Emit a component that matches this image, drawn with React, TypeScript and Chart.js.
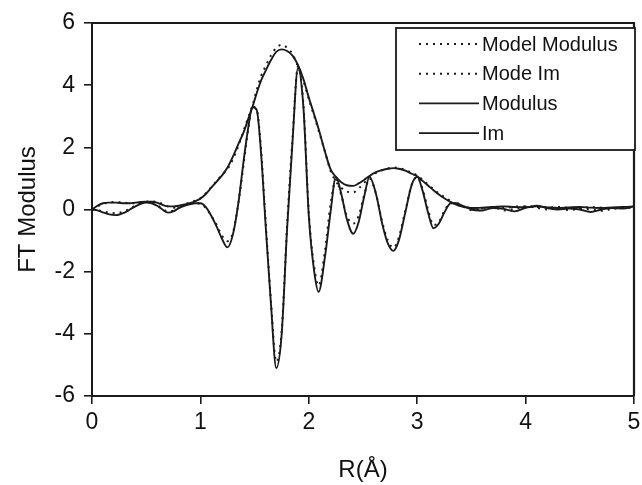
import React, { useEffect, useRef } from "react";
import { Chart, registerables } from "chart.js";

Chart.register(...registerables);

// R (Å) sample positions shared by all series
const R_VALUES = [
  0, 0.05, 0.1, 0.15, 0.22,
  0.3, 0.35, 0.4, 0.45, 0.5,
  0.55, 0.6, 0.65, 0.7, 0.75,
  0.8, 0.85, 0.9, 0.95, 1.0,
  1.05, 1.1, 1.15, 1.2, 1.25,
  1.3, 1.35, 1.4, 1.44, 1.48,
  1.52, 1.56, 1.6, 1.65, 1.7,
  1.75, 1.8, 1.85, 1.9, 1.95,
  2.0, 2.05, 2.09, 2.15, 2.2,
  2.25, 2.3, 2.35, 2.41, 2.46,
  2.51, 2.56, 2.62, 2.68, 2.73,
  2.78, 2.83, 2.89, 2.95, 3.0,
  3.05, 3.1, 3.15, 3.2, 3.25,
  3.31, 3.36, 3.4, 3.45, 3.5,
  3.6, 3.7, 3.8, 3.9, 4.0,
  4.1, 4.2, 4.3, 4.4, 4.5,
  4.6, 4.7, 4.8, 4.9, 5.0,
];

const MODEL_MODULUS = [
  0, 0.1, 0.18, 0.22, 0.24,
  0.22, 0.2, 0.2, 0.22, 0.25,
  0.26, 0.24, 0.18, 0.1, 0.06,
  0.1, 0.16, 0.22, 0.28, 0.36,
  0.52, 0.72, 0.92, 1.12, 1.3,
  1.62, 2.05, 2.55, 2.95, 3.35,
  3.85, 4.3, 4.6, 4.95, 5.2,
  5.3, 5.2, 5.0, 4.6, 4.15,
  3.55, 3.0, 2.55, 1.85, 1.25,
  0.9, 0.7, 0.58, 0.55, 0.68,
  0.85, 1.03, 1.18, 1.27, 1.32,
  1.35, 1.33, 1.27, 1.18, 1.1,
  0.95, 0.8, 0.66, 0.52, 0.4,
  0.27, 0.18, 0.12, 0.08, 0.05,
  0.04, 0.06, 0.05, 0.09, 0.1,
  0.08, 0.06, 0.08, 0.05, 0.04,
  0.08, 0.06, 0.04, 0.06, 0.08,
];

const MODEL_IM = [
  0, -0.02, -0.06, -0.1, -0.12,
  -0.05, 0.03, 0.12, 0.2, 0.24,
  0.22, 0.14, 0.02, -0.06, -0.04,
  0.05, 0.13, 0.18, 0.2, 0.18,
  0.05, -0.2, -0.5, -0.85, -1.02,
  -0.75, 0.2, 1.5, 2.55, 3.3,
  3.2, 1.9, -0.3, -2.9, -4.9,
  -3.9, -0.5, 2.3, 4.6, 3.4,
  -0.1, -1.85, -2.45, -1.3, 0.15,
  0.95, 0.45, -0.2, -0.45, -0.2,
  0.45, 1.0, 0.5, -0.45, -1.0,
  -1.23, -0.9, -0.05, 0.8, 1.05,
  0.65, 0.0, -0.5, -0.4, -0.05,
  0.22, 0.22, 0.15, 0.05, -0.02,
  0.03, 0.08, -0.03, 0.02, 0.1,
  0.06, 0.0, 0.03, -0.02, 0.02,
  0.0, -0.04, 0.02, 0.06, 0.05,
];

const MODULUS = [
  0, 0.12, 0.2, 0.22, 0.22,
  0.2, 0.2, 0.22, 0.24, 0.25,
  0.25, 0.22, 0.15, 0.1, 0.1,
  0.12, 0.16, 0.2, 0.26, 0.35,
  0.5, 0.7, 0.9, 1.1, 1.35,
  1.7, 2.1, 2.5, 2.9, 3.3,
  3.75, 4.15, 4.45, 4.8, 5.07,
  5.15, 5.1, 4.95, 4.65, 4.2,
  3.6, 3.05, 2.6, 1.85, 1.3,
  1.05, 0.88, 0.78, 0.76, 0.84,
  0.95, 1.08, 1.2, 1.27, 1.31,
  1.33, 1.31, 1.25, 1.15, 1.07,
  0.92, 0.77, 0.62, 0.48, 0.36,
  0.24, 0.16, 0.11, 0.07, 0.05,
  0.06, 0.08, 0.1, 0.08, 0.07,
  0.1, 0.07, 0.05, 0.07, 0.08,
  0.06, 0.05, 0.07, 0.08, 0.1,
];

const IM = [
  0, -0.03, -0.09, -0.15, -0.18,
  -0.1, 0.0, 0.1, 0.18, 0.22,
  0.2, 0.12, 0.0, -0.1, -0.06,
  0.04, 0.12, 0.17, 0.2, 0.2,
  0.08, -0.2, -0.55, -0.95, -1.22,
  -0.8, 0.2, 1.6, 2.6, 3.3,
  3.2, 1.8, -0.4, -3.0, -5.1,
  -4.0, -0.6, 2.2, 4.55, 3.3,
  -0.2, -2.0, -2.65, -1.5, -0.1,
  1.05, 0.5, -0.3, -0.78, -0.4,
  0.4, 1.05, 0.5, -0.5, -1.1,
  -1.33, -1.0, -0.1, 0.8, 1.05,
  0.6, -0.1, -0.6, -0.45, -0.1,
  0.2, 0.2, 0.15, 0.08, 0.0,
  -0.03, 0.05, 0.02, -0.06, 0.05,
  0.12, 0.05, 0.0, 0.03, 0.0,
  -0.08, 0.0, 0.05, 0.03, 0.1,
];

const X_TICKS = [0, 1, 2, 3, 4, 5];
const Y_TICKS = [-6, -4, -2, 0, 2, 4, 6];
const SERIES_LABELS = ["Model Modulus", "Mode Im", "Modulus", "Im"];
const X_TITLE = "R(Å)";
const Y_TITLE = "FT Modulus";

const FONT = '"Liberation Sans", Arial, Helvetica, sans-serif';
const INK = "#1a1a1a";
const DOT = [2, 5];

const toPoints = (ys: number[]) => R_VALUES.map((x, i) => ({ x, y: ys[i] }));

const framePlugin = {
  id: "frame",
  afterDatasetsDraw(chart: any) {
    const { ctx, chartArea } = chart;
    ctx.save();
    ctx.strokeStyle = INK;
    ctx.lineWidth = 2.2;
    ctx.beginPath();
    ctx.moveTo(chartArea.left, chartArea.top);
    ctx.lineTo(chartArea.right, chartArea.top);
    ctx.lineTo(chartArea.right, chartArea.bottom);
    ctx.stroke();
    ctx.restore();
  },
};

const legendPlugin = {
  id: "boxLegend",
  afterDraw(chart: any) {
    const { ctx, chartArea } = chart;
    const w = 239;
    const h = 122;
    const x0 = chartArea.right + 1 - w;
    const y0 = chartArea.top + 5;
    ctx.save();
    ctx.fillStyle = "#fff";
    ctx.fillRect(x0, y0, w, h);
    ctx.strokeStyle = INK;
    ctx.lineWidth = 1.8;
    ctx.strokeRect(x0, y0, w, h);
    chart.data.datasets.forEach((ds: any, i: number) => {
      const y = y0 + 16 + i * 29.7;
      ctx.lineWidth = ds.borderDash && ds.borderDash.length ? 2 : 1.8;
      ctx.setLineDash(ds.borderDash || []);
      ctx.beginPath();
      ctx.moveTo(x0 + 23, y);
      ctx.lineTo(x0 + 83, y);
      ctx.stroke();
      ctx.setLineDash([]);
      ctx.fillStyle = "#111";
      ctx.font = `20px ${FONT}`;
      ctx.textBaseline = "middle";
      ctx.textAlign = "left";
      ctx.fillText(ds.label, x0 + 86, y + 1);
    });
    ctx.restore();
  },
};

export default function App() {
  const canvasRef = useRef<HTMLCanvasElement | null>(null);

  useEffect(() => {
    if (!canvasRef.current) return;
    const lineBase = {
      borderColor: INK,
      pointRadius: 0,
      fill: false,
      cubicInterpolationMode: "monotone" as const,
    };
    const chart = new Chart(canvasRef.current, {
      type: "line",
      data: {
        datasets: [
          { ...lineBase, label: SERIES_LABELS[0], data: toPoints(MODEL_MODULUS), borderWidth: 2, borderDash: DOT },
          { ...lineBase, label: SERIES_LABELS[1], data: toPoints(MODEL_IM), borderWidth: 2, borderDash: DOT },
          { ...lineBase, label: SERIES_LABELS[2], data: toPoints(MODULUS), borderWidth: 1.9 },
          { ...lineBase, label: SERIES_LABELS[3], data: toPoints(IM), borderWidth: 1.9 },
        ],
      },
      options: {
        animation: false,
        responsive: false,
        devicePixelRatio: 1,
        layout: { padding: { top: 23, right: 8, left: 0, bottom: 0 } },
        plugins: {
          legend: { display: false },
          tooltip: { enabled: false },
        },
        scales: {
          x: {
            type: "linear",
            min: 0,
            max: 5,
            afterBuildTicks: (s: any) => {
              s.ticks = X_TICKS.map((v) => ({ value: v }));
            },
            afterFit: (s: any) => {
              s.height = 89;
              s.paddingLeft = 0;
              s.paddingRight = 0;
            },
            ticks: {
              font: { family: FONT, size: 23 },
              color: "#111",
              padding: 5,
              maxRotation: 0,
            },
            grid: {
              display: true,
              drawOnChartArea: false,
              drawTicks: true,
              tickLength: 8,
              color: INK,
              lineWidth: 1.6,
            },
            border: { display: true, color: INK, width: 2 },
            title: {
              display: true,
              text: X_TITLE,
              font: { family: FONT, size: 24 },
              color: "#111",
              padding: { top: 0, bottom: 0 },
            },
          },
          y: {
            type: "linear",
            min: -6,
            max: 6,
            afterBuildTicks: (s: any) => {
              s.ticks = Y_TICKS.map((v) => ({ value: v }));
            },
            afterFit: (s: any) => {
              s.width = 92;
            },
            ticks: {
              font: { family: FONT, size: 23 },
              color: "#111",
              padding: 9,
            },
            grid: {
              display: true,
              drawOnChartArea: false,
              drawTicks: true,
              tickLength: 8,
              color: INK,
              lineWidth: 1.6,
            },
            border: { display: true, color: INK, width: 2 },
            title: {
              display: true,
              text: Y_TITLE,
              font: { family: FONT, size: 24 },
              color: "#111",
              padding: { top: 14, bottom: 0 },
            },
          },
        },
      },
      plugins: [framePlugin, legendPlugin],
    });
    return () => chart.destroy();
  }, []);

  return (
    <div style={{ position: "absolute", left: 0, top: 0, width: 642, height: 485, background: "#fff" }}>
      <canvas ref={canvasRef} width={642} height={485} style={{ display: "block" }} />
    </div>
  );
}
